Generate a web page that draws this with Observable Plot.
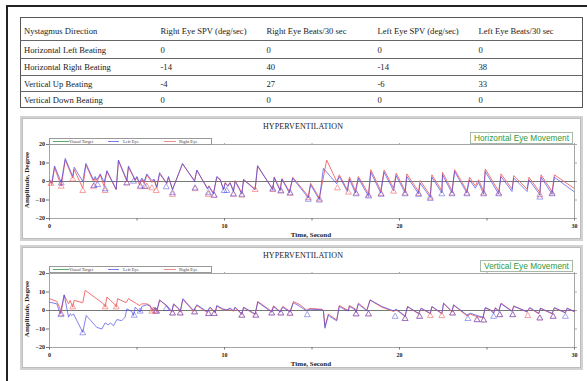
<!DOCTYPE html>
<html><head><meta charset="utf-8">
<script src="https://cdn.jsdelivr.net/npm/d3@7"></script>
<script src="https://cdn.jsdelivr.net/npm/@observablehq/plot@0.6"></script>
<style>
body{margin:0;background:#fff;}
#page{position:relative;width:587px;height:381px;overflow:hidden;background:#fff;font-family:"Liberation Serif",serif;color:#222;}
.abs{position:absolute;}
#outerL{left:6px;top:5px;width:2px;height:380px;background:#222;}
#outerT{left:6px;top:5px;width:581px;height:2px;background:#222;}
#mask{left:583px;top:8px;width:4px;height:373px;background:#fff;z-index:10;}
table{position:absolute;left:20px;top:17px;width:562px;border-collapse:collapse;table-layout:fixed;font-size:8.6px;border:1px solid #555;}
td{padding:0 0 0 3px;white-space:nowrap;overflow:hidden;border-top:1px solid #666;vertical-align:middle;}
.panel{position:absolute;left:20px;width:559px;height:121px;border:2px solid #d2d2d2;box-shadow:inset 0 0 0 1px #bdbdbd;background:#fff;}
.plotbox{position:absolute;left:20px;}
.title{position:absolute;font-size:8px;width:200px;text-align:center;letter-spacing:0.1px;}
.ylab{position:absolute;font-size:7px;font-weight:bold;transform:rotate(-90deg);transform-origin:center;width:90px;text-align:center;}
.xlab{position:absolute;font-size:7px;font-weight:bold;width:120px;text-align:center;}
.tag{position:absolute;font-family:"Liberation Sans",Arial,sans-serif;font-size:8.3px;color:#2f9a3a;border:1px solid #a9b9a9;background:#fff;text-align:center;box-sizing:border-box;line-height:10px;}
.legend{position:absolute;left:49px;width:163px;height:7px;border:1px solid #999;background:#fff;box-sizing:border-box;font-size:4.6px;}
.legend span{position:absolute;top:0;line-height:5px;white-space:nowrap;color:#444;}
.legend .ln{position:absolute;top:2px;height:0;border-top:1px solid;}
</style></head>
<body><div id="page">
<div id="outerL" class="abs"></div>
<table id="tbl"></table>
<div class="panel" style="top:116px"></div>
<div class="panel" style="top:245px"></div>
<div id="c1" class="plotbox" style="top:118px"></div>
<div id="c2" class="plotbox" style="top:247px"></div>
<div id="mask" class="abs"></div>
<div id="outerT" class="abs"></div>
</div>
<script>
// ---------- table data ----------
const tableHeader = ["Nystagmus Direction","Right Eye SPV (deg/sec)","Right Eye Beats/30 sec","Left Eye SPV (deg/sec)","Left Eye Beats/30 sec"];
const directions = ["Horizontal Left Beating","Horizontal Right Beating","Vertical Up Beating","Vertical Down Beating"];
const rightSPV = [0,-14,-4,0];
const rightBeats = [0,40,27,0];
const leftSPV = [0,-14,-6,0];
const leftBeats = [0,38,33,0];

// ---------- chart labels ----------
const chartTitle = "HYPERVENTILATION";
const chartTags = ["Horizontal Eye Movement","Vertical Eye Movement"];
const legendNames = ["Visual Target","Left Eye","Right Eye"];
const xTicks = [0,10,20,30];
const xMinorTicks = [0,5,10,15,20,25,30];
const yTicks = [-20,-10,0,10,20];
const targetT = [0,30];
const targetV = [0,0];

// ---------- horizontal chart: left eye ----------
const hLeftT = [0,0.13,0.29,0.67,0.9,1.33,1.41,1.9,2.08,2.51,2.61,2.7,2.9,3.12,3.28,3.81,3.94,4.42,4.51,4.9,4.99,5.14,5.28,5.41,5.56,5.85,5.98,6.13,6.29,6.7,6.8,7.03,7.6,8.29,8.42,9.03,9.1,9.37,9.56,9.75,9.94,10.04,10.19,10.32,10.51,10.61,10.99,11.09,11.75,11.89,12.76,12.84,13.18,13.28,13.71,13.9,14.79,14.92,15.42,15.65,16.41,16.56,17.02,17.14,17.48,17.65,18.23,18.36,18.93,19.12,19.66,19.81,20.32,20.42,21.09,21.18,21.76,21.85,22.42,22.46,23.0,23.15,23.85,24.0,24.33,24.52,24.81,24.9,25.67,25.8,26.43,26.53,27.29,27.4,28.02,28.09,28.72,28.85,29.96];
const hLeftV = [0.9,-0.9,8.4,-0.5,12.5,2.7,7.7,0,9.8,0.9,2.7,0.9,4.1,-0.5,5.9,-4.1,11.6,0.9,8.4,0.9,2.7,-0.5,1.8,0,4.1,0.5,1.2,-3,4.8,-0.9,2.7,-4.5,9.8,0,6.2,-4.1,-2.7,-6.8,2.7,1.2,-4.5,-0.9,-2.7,-0.9,-5.4,0,-6.8,0.9,-4.5,8.6,-4.5,2.1,-5,1.2,-6.2,1.8,-8.9,-1.8,-9.8,7.1,-1.2,2.7,-5.4,1.2,-6.2,1.8,-8,5,-6.2,5,-5,3.2,-6.2,2.7,-6.6,-0.9,-8.6,2.3,-6.2,3.6,-6.2,5.4,-6.2,0.9,-3.6,-0.5,-6.8,5.4,-6.8,2.7,-5.4,1.8,-5.4,0.9,-7.1,2.3,-6.8,2.3,-5.4];
// ---------- horizontal chart: right eye ----------
const hRightT = [0,0.13,0.29,0.67,0.9,1.33,1.41,1.9,2.08,2.51,2.61,2.7,2.9,3.12,3.28,3.81,3.94,4.42,4.51,4.9,4.99,5.14,5.28,5.41,5.56,5.85,5.98,6.13,6.29,6.7,6.8,7.03,7.6,8.29,8.42,9.03,9.1,9.37,9.56,9.75,9.94,10.04,10.19,10.32,10.51,10.61,10.99,11.09,11.75,11.89,12.76,12.84,13.18,13.28,13.71,13.9,14.79,14.92,15.42,15.84,16.41,16.56,17.02,17.14,17.48,17.65,18.23,18.36,18.93,19.12,19.66,19.81,20.32,20.42,21.09,21.18,21.76,21.85,22.42,22.46,23.0,23.15,23.85,24.0,24.33,24.52,24.81,24.9,25.67,25.8,26.43,26.53,27.29,27.4,28.02,28.09,28.72,28.85,29.96];
const hRightV = [0.5,-1.8,7.5,-2.5,11.6,1.8,6.5,-3.6,9.0,0,1.8,-0.5,3.6,-2.7,5.4,-4.5,11.2,0,7.7,0.5,2.3,-1.8,1.2,-1.2,3.6,-0.5,0.9,-3.6,4.1,-1.2,2.3,-4.1,9.4,0.5,5.9,-3.6,-2.3,-6.2,2.3,0.9,-4.1,-0.5,-2.3,-0.5,-5,0.5,-6.2,1.2,-4.1,8.2,-4.1,2.5,-4.5,1.6,-5.4,2.3,-8.0,-0.9,-8.9,11.6,0,3.6,-4.5,2.5,-5,2.7,-6.6,6.4,-5,6.2,-3.6,4.5,-5,4.1,-5.4,0.5,-7.5,3.6,-5,5,-5,6.4,-5,2.3,-2.3,0.9,-5.4,6.8,-5.4,4.1,-4.1,3.2,-4.1,2.3,-5.9,3.6,-5.4,3.6,-3.6];
// ---------- horizontal chart: beat markers ----------
const hLeftBeatT = [0.67,2.55,2.75,3.18,4.42,4.8,5.2,5.45,6.67,7.03,8.32,9.08,9.41,9.98,10.13,10.51,10.99,12.76,13.22,13.75,14.79,15.42,17.52,18.23,18.95,20.32,21.09,21.76,22.42,23.0,23.85,24.81,25.67,28.02,28.72];
const hLeftBeatV = [-0.9,-2.3,-1.8,-4.1,-0.9,0,-2.5,-2.9,-3,-6.2,-3.6,-6.2,-7.5,-5,-5,-6.8,-7.1,-4.1,-5,-6.2,-9.8,-10.2,-6.8,-8,-7.1,-6.8,-7.1,-9.3,-6.8,-6.8,-6.8,-6.8,-6.8,-8.6,-6.8];
const hRightBeatT = [0.08,0.67,1.33,1.9,2.51,3.18,4.42,5.18,5.56,5.85,6.1,7.03,8.32,9.08,9.41,10.51,10.99,11.75,12.76,13.22,13.75,14.79,15.42,16.45,17.08,17.52,18.23,18.95,19.66,20.32,21.09,21.76,23.0,23.85,24.81,25.67,28.02,28.72];
const hRightBeatV = [-1.2,-2.7,1.2,-5,-2.7,-5,-0.9,-3,-2.7,-3.6,-5,-7.1,-4,-7.1,-7.7,-7.1,-7.5,-4.5,-4.5,-5.4,-6.6,-8.9,-9.6,-3.6,-5.9,-6.4,-7.5,-6.6,-5.4,-6.4,-6.6,-8.6,-6.4,-6.4,-6.4,-6.4,-7.3,-6.4];

// ---------- vertical chart: left eye ----------
const vLeftT = [0,0.42,0.61,0.84,1.09,1.18,1.28,1.37,1.9,2.1,2.7,2.99,3.18,3.37,3.47,3.66,3.85,4.13,4.32,4.42,4.7,4.8,4.9,5.09,5.18,5.28,5.56,5.75,5.94,6.04,6.13,6.29,6.7,6.99,7.09,7.37,7.47,7.62,8.23,8.42,8.99,9.18,9.47,9.56,9.9,10.13,10.32,10.51,10.61,10.99,11.09,11.75,11.9,12.7,12.8,13.18,13.33,13.75,13.94,14.31,14.69,14.89,15.55,15.65,15.74,15.94,16.03,16.41,16.56,16.89,17.08,17.14,17.46,17.52,17.65,18.13,18.32,18.99,19.66,19.81,20.32,20.46,21.09,21.24,21.76,21.85,22.42,22.52,23.0,23.09,23.85,24.05,24.43,24.77,24.9,25.19,25.38,25.48,25.67,25.8,26.43,26.53,27.29,27.44,27.96,28.05,28.72,28.85,29.48,29.58,30];
const vLeftV = [4.5,3.6,-1.8,8.5,-3.6,-1.8,-2.7,-1.8,-11.8,-2.7,-9.1,-10,-6.7,-7.8,-6.7,-8.2,-4.9,-5.5,-3.6,0.9,-0.5,-2.7,1.8,0,-0.9,2.2,3.1,2.4,0,1.8,-0.5,5.5,2.7,-0.5,3.6,1.3,-0.5,6.4,0,3.1,-0.5,1.8,-0.9,2.7,0.9,0.4,1.3,0,1.8,-1.8,1.8,-1.8,4.5,-0.9,2.2,-0.9,1.8,-0.9,4.2,2.2,-0.2,0.7,0.4,-0.2,-9.6,-2.4,-3.3,-5.6,2.2,0.4,-0.2,2.2,0.4,-1.1,3.5,-0.2,5.8,2.2,-0.2,0.7,-2.9,2.2,-1.5,1.3,-1.5,2.2,-1.5,4,-0.5,3.1,-2.4,-1.5,-2.7,-3.6,1.6,0.4,-1.5,1.3,-0.5,3.6,-0.5,2.2,-0.5,1.6,-1.5,1.3,-1.5,1.6,-1.1,1.3,-0.5];
// ---------- vertical chart: right eye ----------
const vRightT = [0,0.42,0.57,0.67,0.84,1.09,1.18,1.33,1.41,1.9,2.04,3.09,3.18,3.28,3.75,3.81,3.89,4.38,4.51,4.99,5.14,5.28,5.56,5.75,5.85,5.94,6.13,6.29,6.7,6.99,7.09,7.37,7.47,7.62,8.23,8.42,8.99,9.18,9.47,9.56,9.9,10.13,10.32,10.51,10.61,10.99,11.09,11.75,11.9,12.7,12.8,13.18,13.33,13.75,13.94,14.31,14.69,14.89,15.55,15.65,15.74,15.94,16.03,16.41,16.56,16.89,17.08,17.14,17.46,17.52,17.65,18.13,18.32,18.99,19.66,19.81,20.32,20.46,21.09,21.24,21.76,21.85,22.42,22.52,23.0,23.09,23.85,24.05,24.43,24.77,24.9,25.19,25.38,25.48,25.67,25.8,26.43,26.53,27.29,27.44,27.96,28.05,28.72,28.85,29.48,29.58,30];
const vRightV = [6.4,4.9,1.8,-0.9,8.2,3.6,5.5,1.8,5.5,4.2,10.9,3.6,1.8,7.3,3.1,1.8,6.4,4.2,6.4,3.6,2.7,3.6,3.6,2.7,-0.5,1.8,-0.5,5.8,2.4,-0.9,3.3,0.9,-0.9,6,-0.4,2.7,-0.9,1.5,-1.3,2.4,0.5,0.2,0.9,-0.4,1.5,-2.2,1.5,-2.2,4.9,-0.5,2.5,-0.5,2.2,-0.5,4.9,3.1,0.2,1.1,0.7,0.2,-8.5,-1.8,-2.7,-5.1,2.7,0.9,0.2,2.7,0.9,-0.7,4,0.2,5.5,1.8,-0.5,0.4,-3.3,2.0,-1.8,1.1,-1.8,2.0,-1.8,3.8,-0.9,2.9,-2.9,-2.0,-3.3,-4.0,1.3,0.2,-1.3,1.6,-0.2,4.0,-0.2,2.5,-0.9,1.3,-1.8,1.1,-1.8,1.3,-1.3,1.1,-0.7];
// ---------- vertical chart: beat markers ----------
const vLeftBeatT = [0.65,1.9,4.84,5.18,6.1,6.67,7.03,7.47,8.29,9.09,9.41,10.99,11.79,12.7,13.22,13.74,14.73,17.52,18.23,19.75,20.32,21.15,23.03,23.91,24.43,24.81,25.38,25.73,26.47,28.02,28.78,29.48];
const vLeftBeatV = [-2.4,-12.2,-2.7,-0.5,-0.5,0.9,-1.5,-1.5,-0.9,-1.8,-1.8,-2.7,-2.7,-1.5,-1.5,-1.5,-2.4,-2,-2,-3.3,-4.5,-3.3,-1.5,-4.5,-5.1,-5.3,-3.3,-2.4,-2.4,-4.2,-3.3,-3.3];
const vRightBeatT = [0.67,1.33,3.18,3.81,5.85,6.04,6.13,7.03,7.47,8.29,9.09,9.41,10.99,11.79,12.7,13.22,13.75,17.52,18.23,20.32,21.15,21.76,22.42,23.03,24.43,24.81,25.73,26.47,27.33,28.02,28.78];
const vRightBeatV = [-1.8,1.8,1.8,1.8,-0.5,-0.5,-0.5,-1.5,-1.5,-0.9,-1.8,-1.8,-2.7,-2.7,-1.5,-1.5,-1.8,-2,-2,-4.5,-3.3,-2.9,-2.9,-1.5,-5.1,-5.3,-2.4,-2.4,-2.9,-4.2,-3.3];

// ---------- colours ----------
const leftColor = "#4646e6";
const rightColor = "#f06a6a";
const targetColor = "#5aa86a";

// ---------- build table ----------
const tbl = document.getElementById("tbl");
const colW = [137,106,111,101,107];
const cg = document.createElement("colgroup");
colW.forEach(w => { const c = document.createElement("col"); c.style.width = w + "px"; cg.appendChild(c); });
tbl.appendChild(cg);
const rowH = [23,18,17,16,16];
function addRow(cells, h, first) {
  const tr = document.createElement("tr");
  tr.style.height = h + "px";
  cells.forEach(c => { const td = document.createElement("td"); td.textContent = c; if (first) td.style.borderTop = "none"; if (first) td.style.paddingTop = "4px"; tr.appendChild(td); });
  tbl.appendChild(tr);
}
addRow(tableHeader, rowH[0], true);
directions.forEach((d, i) => addRow([d, rightSPV[i], rightBeats[i], leftSPV[i], leftBeats[i]], rowH[i + 1], false));

// ---------- charts ----------
const zip = (T, V) => T.map((t, i) => ({t, v: V[i]}));
function eyeChart(lt, lv, rt, rv, lbt, lbv, rbt, rbv) {
  return Plot.plot({
    width: 563, height: 125,
    marginLeft: 29, marginRight: 9, marginTop: 26, marginBottom: 25,
    x: {domain: [0, 30]},
    y: {domain: [-20, 20]},
    style: {background: "transparent", fontFamily: "'Liberation Serif', serif", fontSize: "6px", fontWeight: "bold", color: "#222", overflow: "visible"},
    marks: [
      Plot.frame({stroke: "#a5a5a5"}),
      Plot.line(zip(targetT, targetV), {x: "t", y: "v", stroke: "#666a66", strokeWidth: 0.9}),
      Plot.axisY({ticks: yTicks, tickSize: 3, tickPadding: 1.5, label: null, stroke: "#777"}),
      Plot.axisY({anchor: "right", ticks: yTicks, tickSize: 2, tickFormat: () => "", label: null, stroke: "#aaa"}),
      Plot.axisX({ticks: xMinorTicks, tickSize: 2.5, tickPadding: 2.5, tickFormat: d => (xTicks.includes(d) ? d : ""), label: null, stroke: "#777"}),
      Plot.axisX({anchor: "top", ticks: xMinorTicks, tickSize: 2, tickFormat: () => "", label: null, stroke: "#aaa"}),
      Plot.line(zip(rt, rv), {x: "t", y: "v", stroke: rightColor, strokeWidth: 0.95}),
      Plot.line(zip(lt, lv), {x: "t", y: "v", stroke: leftColor, strokeWidth: 0.95, strokeOpacity: 0.72}),
      Plot.dot(zip(rbt, rbv), {x: "t", y: "v", symbol: "triangle", r: 2.2, stroke: rightColor, fill: "none", strokeWidth: 0.7, strokeOpacity: 0.9}),
      Plot.dot(zip(lbt, lbv), {x: "t", y: "v", symbol: "triangle", r: 2.2, stroke: leftColor, fill: "none", strokeWidth: 0.7, strokeOpacity: 0.7})
    ]
  });
}
document.getElementById("c1").appendChild(eyeChart(hLeftT, hLeftV, hRightT, hRightV, hLeftBeatT, hLeftBeatV, hRightBeatT, hRightBeatV));
document.getElementById("c2").appendChild(eyeChart(vLeftT, vLeftV, vRightT, vRightV, vLeftBeatT, vLeftBeatV, vRightBeatT, vRightBeatV));

// ---------- chart text overlays ----------
const page = document.getElementById("page");
function addDiv(cls, text, css) {
  const d = document.createElement("div");
  d.className = cls; d.textContent = text; Object.assign(d.style, css);
  page.appendChild(d); return d;
}
function addLegend(top) {
  const lg = document.createElement("div");
  lg.className = "legend"; lg.style.top = top + "px";
  const items = [[3, 16, 19, targetColor], [58, 11, 73, "#7a7ae8"], [114, 12, 129, "#f08c8c"]];
  items.forEach(([x, w, tx, col], i) => {
    const ln = document.createElement("div"); ln.className = "ln"; ln.style.left = x + "px"; ln.style.width = w + "px"; ln.style.borderTopColor = col; lg.appendChild(ln);
    const s = document.createElement("span"); s.style.left = tx + "px"; s.textContent = legendNames[i]; lg.appendChild(s);
  });
  page.appendChild(lg);
}
[[0, 122, 138, 132, 470, 103], [1, 251, 266, 260, 480, 93]].forEach(([k, ty, ly, tagY, tagX, tagW]) => {
  const base = k === 0 ? 118 : 247;
  addDiv("title", chartTitle, {left: "203px", top: ty + "px"});
  addLegend(ly);
  addDiv("tag", chartTags[k], {left: tagX + "px", top: tagY + "px", width: tagW + "px", height: "12px"});
  addDiv("ylab", "Amplitude, Degree", {left: (27 - 45) + "px", top: (base + 63 - 5) + "px"});
  addDiv("xlab", "Time, Second", {left: (311 - 60) + "px", top: (base + 113) + "px"});
});
</script>
</body></html>
